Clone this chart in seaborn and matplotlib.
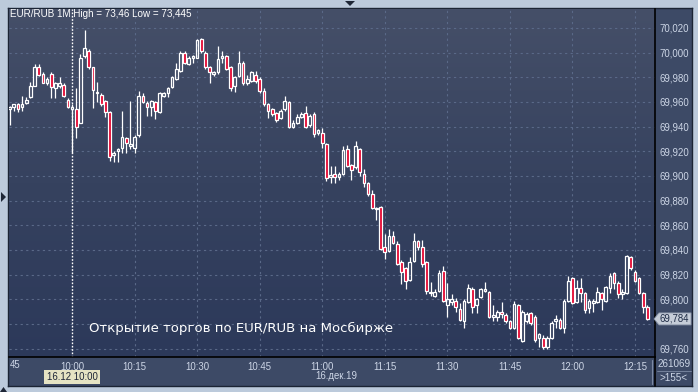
import numpy as np
import pandas as pd
import matplotlib
matplotlib.use("Agg")
import matplotlib.pyplot as plt
from matplotlib.colors import LinearSegmentedColormap
from matplotlib.patches import Polygon
import seaborn as sns

# ---------------- data (1-minute EUR/RUB candles from 09:45) ----------------
opens = [69.954, 69.956, 69.958, 69.956, 69.959, 69.964, 69.973, 69.988, 69.983, 69.975,
         69.983, 69.971, 69.973, 69.974, 69.962, 69.954, 69.954, 69.943, 69.997, 70.001,
         69.988, 69.967, 69.966, 69.961, 69.952, 69.917, 69.920, 69.923, 69.931, 69.924,
         69.923, 69.933, 69.965, 69.959, 69.956, 69.960, 69.952, 69.965, 69.967, 69.972,
         69.979, 69.985, 70.000, 69.991, 69.996, 69.996, 70.011, 70.000, 69.988, 69.983,
         69.984, 69.996, 69.997, 69.988, 69.973, 69.981, 69.992, 69.975, 69.977, 69.982,
         69.979, 69.969, 69.958, 69.954, 69.951, 69.947, 69.954, 69.960, 69.940, 69.943,
         69.948, 69.951, 69.941, 69.950, 69.935, 69.935, 69.926, 69.899, 69.902, 69.899,
         69.902, 69.922, 69.909, 69.907, 69.922, 69.902, 69.894, 69.885, 69.874, 69.875,
         69.842, 69.839, 69.851, 69.845, 69.830, 69.825, 69.816, 69.831, 69.847, 69.842,
         69.830, 69.805, 69.803, 69.807, 69.823, 69.795, 69.798, 69.799, 69.792, 69.782,
         69.798, 69.808, 69.795, 69.802, 69.807, 69.806, 69.786, 69.786, 69.790, 69.787,
         69.782, 69.777, 69.795, 69.766, 69.782, 69.789, 69.786, 69.769, 69.769, 69.761,
         69.769, 69.782, 69.783, 69.777, 69.799, 69.817, 69.798, 69.809, 69.805, 69.793,
         69.797, 69.798, 69.805, 69.799, 69.809, 69.821, 69.813, 69.804, 69.805, 69.834,
         69.822, 69.817, 69.805, 69.794]
closes = [69.956, 69.958, 69.954, 69.958, 69.962, 69.973, 69.988, 69.982, 69.975, 69.979,
          69.972, 69.975, 69.975, 69.965, 69.956, 69.956, 69.940, 69.996, 70.004, 69.988,
          69.970, 69.968, 69.958, 69.952, 69.915, 69.919, 69.922, 69.932, 69.927, 69.926,
          69.932, 69.965, 69.960, 69.956, 69.961, 69.953, 69.967, 69.967, 69.971, 69.980,
          69.987, 70.000, 69.992, 69.996, 69.997, 70.010, 70.001, 69.988, 69.984, 69.984,
          69.995, 69.997, 69.987, 69.971, 69.980, 69.992, 69.975, 69.979, 69.984, 69.977,
          69.969, 69.958, 69.953, 69.950, 69.945, 69.953, 69.961, 69.940, 69.943, 69.948,
          69.950, 69.940, 69.949, 69.934, 69.937, 69.927, 69.898, 69.901, 69.899, 69.902,
          69.921, 69.908, 69.905, 69.924, 69.903, 69.894, 69.885, 69.874, 69.873, 69.841,
          69.838, 69.851, 69.846, 69.829, 69.822, 69.815, 69.830, 69.847, 69.842, 69.829,
          69.807, 69.806, 69.806, 69.821, 69.799, 69.800, 69.800, 69.794, 69.783, 69.799,
          69.809, 69.794, 69.800, 69.808, 69.808, 69.786, 69.787, 69.790, 69.788, 69.782,
          69.777, 69.796, 69.769, 69.790, 69.788, 69.781, 69.767, 69.772, 69.761, 69.769,
          69.781, 69.784, 69.777, 69.799, 69.815, 69.797, 69.809, 69.805, 69.791, 69.799,
          69.799, 69.806, 69.800, 69.810, 69.819, 69.813, 69.804, 69.806, 69.835, 69.825,
          69.815, 69.805, 69.794, 69.784]
highs = [69.957, 69.958, 69.959, 69.965, 69.964, 69.976, 69.991, 69.991, 69.984, 69.980,
         69.984, 69.976, 69.980, 69.975, 69.963, 69.958, 69.971, 69.999, 70.018, 70.003,
         69.988, 69.976, 69.967, 69.962, 69.953, 69.920, 69.923, 69.953, 69.932, 69.961,
         69.933, 69.969, 69.967, 69.961, 69.962, 69.961, 69.968, 69.968, 69.972, 69.981,
         69.992, 70.001, 70.001, 69.997, 69.998, 70.011, 70.012, 70.001, 69.989, 69.985,
         70.005, 70.001, 69.998, 69.989, 69.981, 70.001, 69.993, 69.982, 69.985, 69.985,
         69.980, 69.971, 69.959, 69.955, 69.952, 69.954, 69.965, 69.961, 69.945, 69.950,
         69.952, 69.957, 69.950, 69.952, 69.938, 69.939, 69.927, 69.908, 69.908, 69.903,
         69.924, 69.925, 69.910, 69.928, 69.923, 69.906, 69.895, 69.889, 69.875, 69.876,
         69.853, 69.857, 69.855, 69.847, 69.832, 69.826, 69.834, 69.854, 69.848, 69.848,
         69.831, 69.814, 69.808, 69.824, 69.827, 69.813, 69.804, 69.801, 69.797, 69.800,
         69.812, 69.810, 69.801, 69.809, 69.814, 69.807, 69.795, 69.791, 69.798, 69.789,
         69.783, 69.799, 69.796, 69.791, 69.790, 69.790, 69.787, 69.773, 69.771, 69.770,
         69.782, 69.787, 69.785, 69.800, 69.819, 69.818, 69.816, 69.817, 69.806, 69.800,
         69.800, 69.810, 69.806, 69.811, 69.821, 69.822, 69.815, 69.808, 69.836, 69.835,
         69.824, 69.818, 69.806, 69.795]
lows = [69.941, 69.953, 69.952, 69.953, 69.958, 69.963, 69.973, 69.981, 69.975, 69.974,
        69.963, 69.963, 69.971, 69.964, 69.955, 69.919, 69.931, 69.943, 69.996, 69.987,
        69.955, 69.960, 69.957, 69.948, 69.912, 69.911, 69.911, 69.919, 69.919, 69.922,
        69.919, 69.932, 69.959, 69.949, 69.949, 69.946, 69.951, 69.964, 69.964, 69.971,
        69.978, 69.984, 69.991, 69.990, 69.992, 69.996, 70.000, 69.987, 69.975, 69.981,
        69.983, 69.992, 69.986, 69.969, 69.968, 69.980, 69.974, 69.974, 69.976, 69.975,
        69.967, 69.957, 69.947, 69.949, 69.944, 69.946, 69.953, 69.939, 69.939, 69.942,
        69.947, 69.939, 69.940, 69.932, 69.933, 69.923, 69.896, 69.894, 69.894, 69.897,
        69.901, 69.907, 69.897, 69.906, 69.900, 69.891, 69.884, 69.873, 69.864, 69.840,
        69.833, 69.838, 69.845, 69.828, 69.812, 69.808, 69.815, 69.830, 69.840, 69.826,
        69.804, 69.803, 69.802, 69.806, 69.798, 69.786, 69.795, 69.790, 69.782, 69.777,
        69.797, 69.789, 69.789, 69.801, 69.806, 69.785, 69.782, 69.782, 69.785, 69.781,
        69.776, 69.776, 69.768, 69.765, 69.781, 69.779, 69.765, 69.761, 69.760, 69.760,
        69.768, 69.777, 69.776, 69.773, 69.798, 69.796, 69.797, 69.798, 69.789, 69.789,
        69.790, 69.797, 69.791, 69.798, 69.805, 69.808, 69.801, 69.800, 69.804, 69.824,
        69.814, 69.804, 69.789, 69.783]

tick_minutes = [15, 30, 45, 60, 75, 90, 105, 120, 135, 150]
tick_labels = ["10:00", "10:15", "10:30", "10:45", "11:00", "11:15", "11:30", "11:45", "12:00", "12:15"]
price_ticks = [69.760, 69.780, 69.800, 69.820, 69.840, 69.860, 69.880, 69.900,
               69.920, 69.940, 69.960, 69.980, 70.000, 70.020]
last_price = 69.784
session_open_minute = 15
title_text = "EUR/RUB 1M High = 73,46 Low = 73,445"
note_text = "Открытие торгов по EUR/RUB на Мосбирже"
date_text = "16.дек.19"
cursor_text = "16.12 10:00"
volume_text = "261069"
bars_text = ">155<"
first_label = "45"

df = pd.DataFrame({"open": opens, "close": closes, "high": highs, "low": lows})
df["t"] = np.arange(len(df))
df["up"] = df["close"] >= df["open"]
df["top"] = df[["open", "close"]].max(axis=1)
df["bot"] = df[["open", "close"]].min(axis=1)

# ---------------- style ----------------
sns.set_theme(style="dark")
plt.rcParams["font.family"] = ["Liberation Sans", "DejaVu Sans"]

W, H = 698, 392
FRAME = "#bccadb"
PANEL = "#3d4a66"
RED = "#e3002b"
LABEL = "#cdd6e6"

fig = plt.figure(figsize=(W / 100, H / 100), dpi=100, facecolor=FRAME)


def rect(x0, y0, x1, y1):
    return [x0 / W, 1 - y1 / H, (x1 - x0) / W, (y1 - y0) / H]


def fx(x):
    return x / W


def fy(y):
    return 1 - y / H


bg = fig.add_axes(rect(8, 8, 692, 386))
bg.set_facecolor(PANEL)
bg.set_xticks([])
bg.set_yticks([])
for s in bg.spines.values():
    s.set_color("#1b2434")
    s.set_linewidth(1.0)

ax = fig.add_axes(rect(9, 9, 655, 357))
xlim = (-0.12, 154.8)
ylim = (69.7532, 70.0354)
ax.set_xlim(*xlim)
ax.set_ylim(*ylim)

grad = LinearSegmentedColormap.from_list("g", ["#2c395a", "#36425f", "#454f68"])
ax.imshow(np.linspace(0, 1, 256).reshape(-1, 1), extent=[xlim[0], xlim[1], ylim[0], ylim[1]],
          aspect="auto", origin="lower", cmap=grad, zorder=0)

# grid
ax.hlines(price_ticks, xlim[0], xlim[1], colors="#5a6988", linewidth=0.8,
          linestyles=(0, (2, 3)), zorder=1)
ax.vlines([m for m in tick_minutes if m != session_open_minute], ylim[0], ylim[1],
          colors="#5a6988", linewidth=0.8, linestyles=(0, (2, 3)), zorder=1)
ax.vlines([session_open_minute], ylim[0], ylim[1], colors="white", linewidth=1.0,
          linestyles=(0, (1.2, 1.2)), zorder=1.5)

# candles
ax.vlines(df["t"], df["top"], df["high"], colors="white", linewidth=0.9, zorder=2)
ax.vlines(df["t"], df["low"], df["bot"], colors="white", linewidth=0.9, zorder=2)
heights = (df["top"] - df["bot"]).clip(lower=0.0008)
face = np.where(df["up"], "none", RED)
ax.bar(df["t"], heights, bottom=df["bot"], width=0.64, color=face, edgecolor="white",
       linewidth=0.9, zorder=3)

# axes decoration
for side in ["top", "left"]:
    ax.spines[side].set_visible(False)
for side in ["right", "bottom"]:
    ax.spines[side].set_color("black")
    ax.spines[side].set_linewidth(1.2)

ax.yaxis.tick_right()
ax.set_yticks(price_ticks)
# the 69,780 label sits under the last-price marker, as in the original
ax.set_yticklabels(["" if abs(v - 69.780) < 1e-9 else f"{v:.3f}".replace(".", ",")
                    for v in price_ticks])
ax.set_xticks(tick_minutes)
ax.set_xticklabels(tick_labels)
ax.tick_params(axis="both", length=0, colors=LABEL, labelsize=6.9)
ax.tick_params(axis="y", pad=3.5)
ax.tick_params(axis="x", pad=3.5)
ax.grid(False)

# texts
fig.text(fx(10), fy(14), title_text, color="white", fontsize=7.1, va="center", ha="left")
fig.text(fx(89), fy(328), note_text, color="white", fontsize=9.5, va="center", ha="left",
         family=["DejaVu Sans"])
fig.text(fx(10), fy(365), first_label, color=LABEL, fontsize=6.9, va="center", ha="left")
fig.text(fx(72), fy(377), cursor_text, color="#1c2436", fontsize=6.9, va="center", ha="center",
         bbox=dict(boxstyle="square,pad=0.25", facecolor="#e5e3c3", edgecolor="none"))
fig.text(fx(336), fy(376), date_text, color=LABEL, fontsize=6.9, va="center", ha="center")
fig.text(fx(674), fy(364), volume_text, color=LABEL, fontsize=7.1, va="center", ha="center")
fig.text(fx(674), fy(378), bars_text, color=LABEL, fontsize=7.1, va="center", ha="center")

# separators in the bottom-right corner
fig.add_artist(plt.Line2D([fx(652), fx(652)], [fy(360), fy(384)], color="#7d8aa3", lw=0.8))
fig.add_artist(plt.Line2D([fx(655), fx(655)], [fy(357), fy(386)], color="black", lw=1.2))
fig.add_artist(plt.Line2D([fx(657), fx(691)], [fy(371), fy(371)], color="#7d8aa3", lw=0.6))

# last price marker
py = 52.7 + (70.000 - last_price) / 0.020 * 24.65
fig.add_artist(Polygon([[fx(654), fy(py)], [fx(659), fy(py - 6)], [fx(691), fy(py - 6)],
                        [fx(691), fy(py + 6)], [fx(659), fy(py + 6)]], closed=True,
                       facecolor="#c6cdd8", edgecolor="#8c97aa", lw=0.6, zorder=5))
fig.text(fx(660), fy(py), f"{last_price:.3f}".replace(".", ","), color="#1d2a44",
         fontsize=6.9, va="center", ha="left", zorder=6)

# little frame arrows
fig.add_artist(Polygon([[fx(345), fy(1)], [fx(355), fy(1)], [fx(350), fy(6)]],
                       closed=True, facecolor="#1e2636", edgecolor="none"))
fig.add_artist(Polygon([[fx(1), fy(192)], [fx(1), fy(202)], [fx(6), fy(197)]],
                       closed=True, facecolor="#1e2636", edgecolor="none"))
fig.add_artist(Polygon([[fx(0), fy(392)], [fx(7), fy(392)], [fx(3.5), fy(387)]],
                       closed=True, facecolor="#1e2636", edgecolor="none"))

fig.savefig("out.png", dpi=100, facecolor=FRAME)
